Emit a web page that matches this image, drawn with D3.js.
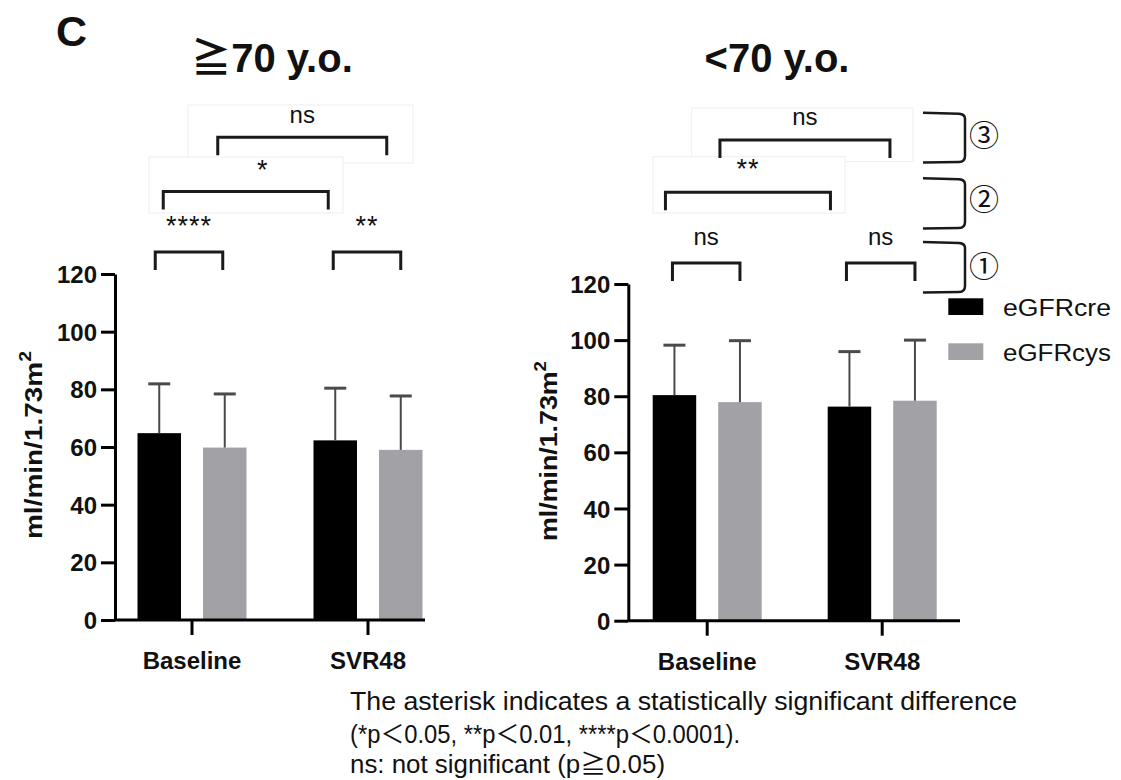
<!DOCTYPE html>
<html>
<head>
<meta charset="utf-8">
<script src="https://cdn.jsdelivr.net/npm/d3@7"></script>
<style>
  html, body { margin: 0; padding: 0; background: #ffffff; }
  svg { display: block; }
  text { font-family: "Liberation Sans", Arial, "Noto Sans CJK JP", sans-serif; fill: #111; }
</style>
</head>
<body>
<svg id="fig" width="1121" height="780"></svg>
<script>
// eGFR by age group, baseline vs SVR48 (mean + SD)
const categories = ["Baseline", "SVR48"];
const series = ["eGFRcre", "eGFRcys"];
const seriesColors = ["#000000", "#a2a1a6"];
const yTicks = [0, 20, 40, 60, 80, 100, 120];

// >= 70 years
const olderCre   = [64.8, 62.3];
const olderCreSD = [17.1, 18.1];
const olderCys   = [59.8, 59.0];
const olderCysSD = [18.6, 18.7];

// < 70 years
const youngerCre   = [80.4, 76.3];
const youngerCreSD = [17.8, 19.6];
const youngerCys   = [77.9, 78.4];
const youngerCysSD = [21.9, 21.6];

// significance comparisons: [category, series] pairs, bracket level (y units), label
const olderTests = [
  { a: [0, 0], b: [0, 1], level: 127.6, label: "****" },
  { a: [1, 0], b: [1, 1], level: 127.6, label: "**" },
  { a: [0, 0], b: [1, 0], level: 148.6, label: "*" },
  { a: [0, 1], b: [1, 1], level: 167.4, label: "ns" }
];
const youngerTests = [
  { a: [0, 0], b: [0, 1], level: 127.5, label: "ns" },
  { a: [1, 0], b: [1, 1], level: 127.5, label: "ns" },
  { a: [0, 0], b: [1, 0], level: 152.7, label: "**" },
  { a: [0, 1], b: [1, 1], level: 171.3, label: "ns" }
];
const tierLabels = ["③", "②", "①"];

const svg = d3.select("#fig");

function buildPanel(cfg) {
  const g = svg.append("g");
  const y = d3.scaleLinear().domain([0, 120]).range([cfg.y0, cfg.yTop]);
  const x = d3.scaleBand().domain(categories).range(cfg.xRange).paddingInner(0).paddingOuter(0);
  const xs = d3.scaleBand().domain(series).range([-54.5, 54.5]).paddingInner(0.336).paddingOuter(0);
  const barCenter = (ci, si) => x(categories[ci]) + x.bandwidth() / 2 + xs(series[si]) + xs.bandwidth() / 2;

  // faint annotation frames
  cfg.frames.forEach(f => {
    g.append("rect").attr("x", f[0]).attr("y", f[1]).attr("width", f[2] - f[0]).attr("height", f[3] - f[1])
      .attr("fill", "#fff").attr("stroke", "#eeeeee").attr("stroke-width", 1);
  });

  // bars with SD whiskers
  const rows = [];
  categories.forEach((c, ci) => {
    series.forEach((s, si) => {
      rows.push({ c, s, si, v: cfg.means[si][ci], sd: cfg.sds[si][ci] });
    });
  });
  const grp = g.append("g");
  rows.forEach(r => {
    const cx = x(r.c) + x.bandwidth() / 2;
    grp.append("rect")
      .attr("x", cx + xs(r.s)).attr("width", xs.bandwidth())
      .attr("y", y(r.v)).attr("height", y(0) - y(r.v))
      .attr("fill", seriesColors[r.si]);
    const mx = cx + xs(r.s) + xs.bandwidth() / 2;
    grp.append("line").attr("x1", mx).attr("x2", mx).attr("y1", y(r.v)).attr("y2", y(r.v + r.sd))
      .attr("stroke", "#4a4a4a").attr("stroke-width", 2);
    grp.append("line").attr("x1", mx - 11).attr("x2", mx + 11).attr("y1", y(r.v + r.sd)).attr("y2", y(r.v + r.sd))
      .attr("stroke", "#4a4a4a").attr("stroke-width", 3);
  });

  // y axis
  const yAxis = g.append("g").attr("transform", `translate(${cfg.axisX},0)`)
    .call(d3.axisLeft(y).tickValues(yTicks).tickSize(14).tickSizeOuter(0).tickPadding(4));
  yAxis.select(".domain").attr("stroke", "#000").attr("stroke-width", 3);
  yAxis.selectAll(".tick line").attr("stroke", "#000").attr("stroke-width", 3);
  yAxis.selectAll(".tick text").attr("font-size", 24).attr("font-weight", "bold")
    .attr("font-family", "Liberation Sans, Arial, sans-serif").attr("fill", "#111").attr("dy", "0.36em");

  // x axis
  const xAxis = g.append("g").attr("transform", `translate(0,${cfg.y0})`)
    .call(d3.axisBottom(x).tickSize(15).tickSizeOuter(0).tickPadding(12));
  xAxis.select(".domain").remove();
  xAxis.append("line").attr("x1", cfg.axisX).attr("x2", cfg.xEnd).attr("y1", 0).attr("y2", 0)
    .attr("stroke", "#000").attr("stroke-width", 3);
  xAxis.selectAll(".tick line").attr("stroke", "#000").attr("stroke-width", 3);
  xAxis.selectAll(".tick text").attr("font-size", 24).attr("font-weight", "bold")
    .attr("font-family", "Liberation Sans, Arial, sans-serif").attr("fill", "#111")
    .attr("dy", "0.92em");

  // y label
  const yl = g.append("text")
    .attr("transform", `translate(${cfg.ylabel[0]},${cfg.ylabel[1]}) rotate(-90)`)
    .attr("text-anchor", "middle").attr("font-size", 23).attr("font-weight", "bold")
    .attr("textLength", cfg.ylabel[2]).attr("lengthAdjust", "spacingAndGlyphs");
  yl.append("tspan").text("ml/min/1.73m");
  yl.append("tspan").attr("font-size", 16).attr("dy", -11).text("2");

  // title
  g.append("text").attr("x", cfg.title[1]).attr("y", 72).attr("text-anchor", "middle")
    .attr("font-size", 40).attr("font-weight", "bold").text(cfg.title[0]);

  // significance brackets
  cfg.tests.forEach((t, i) => {
    const off = cfg.bracketOffsets[i];
    const xa = barCenter(t.a[0], t.a[1]) + off[0];
    const xb = barCenter(t.b[0], t.b[1]) + off[1];
    const yb = y(t.level);
    g.append("path")
      .attr("d", `M${xa},${yb + 18}V${yb}H${xb}V${yb + 18}`)
      .attr("fill", "none").attr("stroke", "#1a1a1a").attr("stroke-width", 3);
    const isStar = t.label.indexOf("*") >= 0;
    g.append("text")
      .attr("x", (xa + xb) / 2 + off[2]).attr("y", yb - off[3] + (isStar ? 4 : 0))
      .attr("text-anchor", "middle")
      .attr("font-size", isStar ? 27 : 24)
      .attr("letter-spacing", isStar ? 1 : 0)
      .text(t.label);
  });
}

buildPanel({
  title: ["≧70 y.o.", 272],
  means: [olderCre, olderCys], sds: [olderCreSD, olderCysSD],
  tests: olderTests,
  bracketOffsets: [[-4, -2, 0, 21], [-2, 0, 0, 21], [4, -7, 17, 17], [-7, -14, 0, 14]],
  y0: 620, yTop: 274, xRange: [104, 456], axisX: 115, xEnd: 425,
  ylabel: [42, 445, 188],
  frames: [[188, 105, 413, 163], [149, 157, 343, 213]]
});

buildPanel({
  title: ["<70 y.o.", 777],
  means: [youngerCre, youngerCys], sds: [youngerCreSD, youngerCysSD],
  tests: youngerTests,
  bracketOffsets: [[-2, 0, 0, 18], [-3, 0, 0, 18], [-9, -19, 0, 18], [-20, -25, 0, 15]],
  y0: 620.7, yTop: 284, xRange: [619.7, 969.7], axisX: 628.3, xEnd: 960,
  ylabel: [557, 451, 180],
  frames: [[691.7, 108, 913, 161.7], [653, 156.7, 845, 213]]
});

// panel letter
svg.append("text").attr("x", 56).attr("y", 46).attr("font-size", 43).attr("font-weight", "bold").text("C");

// tier brackets on the right
const tierSpans = [[112.7, 162, 135.5], [178.3, 228, 199], [242, 292, 266]];
tierSpans.forEach((s, i) => {
  const x0 = 923, x1 = 965, r = 6;
  svg.append("path")
    .attr("d", `M${x0},${s[0]} L${x1 - r},${s[0] + 1} Q${x1},${s[0] + 1.5} ${x1},${s[0] + r} L${x1},${s[1] - r} Q${x1},${s[1]} ${x1 - r},${s[1]} L${x0},${s[1] + 0.5}`)
    .attr("fill", "none").attr("stroke", "#1a1a1a").attr("stroke-width", 2.5);
  svg.append("text").attr("x", 984).attr("y", s[2]).attr("text-anchor", "middle")
    .attr("dominant-baseline", "central")
    .attr("font-family", "Noto Sans CJK JP, sans-serif").attr("font-size", 30).text(tierLabels[i]);
});

// legend
const legend = svg.append("g");
series.forEach((s, i) => {
  const ly = 298.3 + i * 45;
  legend.append("rect").attr("x", 948.3).attr("y", ly).attr("width", 35).attr("height", 16.7).attr("fill", seriesColors[i]);
  legend.append("text").attr("x", 1003).attr("y", ly + 17.5).attr("font-size", 23)
    .attr("textLength", 108).attr("lengthAdjust", "spacingAndGlyphs").text(s);
});

// footnote
const notes = [
  ["The asterisk indicates a statistically significant difference", 710, 667],
  ["(*p＜0.05, **p＜0.01, ****p＜0.0001).", 743, 390],
  ["ns: not significant (p≧0.05)", 773, 315]
];
notes.forEach(n => {
  svg.append("text").attr("x", 350).attr("y", n[1]).attr("font-size", 25)
    .attr("textLength", n[2]).attr("lengthAdjust", "spacingAndGlyphs").text(n[0]);
});
</script>
</body>
</html>
